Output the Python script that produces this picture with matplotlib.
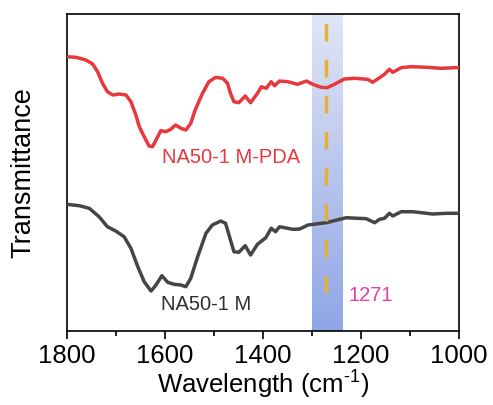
import numpy as np
import matplotlib.pyplot as plt
from matplotlib.colors import LinearSegmentedColormap
from matplotlib.ticker import MultipleLocator

plt.rcParams['font.family'] = ['Liberation Sans', 'DejaVu Sans']
plt.rcParams['mathtext.fontset'] = 'custom'
plt.rcParams['mathtext.rm'] = 'Liberation Sans'
plt.rcParams['mathtext.default'] = 'regular'

# NA50-1 M-PDA (red)
wn_pda = [1800, 1781, 1761, 1747, 1737, 1727, 1717, 1706, 1693, 1679, 1669, 1659,
          1652, 1642, 1632, 1625, 1618, 1608, 1598, 1588, 1578, 1567, 1557, 1547,
          1538, 1523, 1510, 1496, 1482, 1472, 1466, 1459, 1449, 1436, 1425, 1411,
          1403, 1393, 1383, 1376, 1366, 1349, 1329, 1311, 1298, 1281, 1269, 1254,
          1234, 1213, 1186, 1176, 1162, 1152, 1142, 1135, 1118, 1098, 1064, 1037,
          1010, 1000]
t_pda = [274.3, 273.7, 271, 267, 259.3, 247.7, 239.3, 236, 237, 236, 229.3, 216,
         204.3, 194.3, 185, 184.3, 191, 200.3, 199.3, 201.7, 206, 202.7, 201, 207.7,
         221, 237.7, 249.3, 253.7, 252.7, 247.7, 237.7, 229.3, 228.3, 235, 228.3, 237.7,
         244.3, 242.7, 249.3, 245.3, 250, 249.3, 246.7, 250, 246.7, 243.7, 243.3, 246.7,
         252, 252.7, 251.7, 248.7, 253.3, 256.7, 261.7, 258.7, 263.3, 264.3, 263.7, 262.7,
         263.3, 263.3]

# NA50-1 M (black)
wn_m = [1800, 1774, 1754, 1734, 1717, 1700, 1683, 1669, 1655, 1642, 1628, 1618,
        1606, 1594, 1581, 1567, 1557, 1547, 1533, 1516, 1503, 1486, 1476, 1469,
        1459, 1449, 1436, 1425, 1411, 1394, 1383, 1374, 1366, 1339, 1325, 1308,
        1271, 1230, 1189, 1172, 1162, 1152, 1142, 1135, 1118, 1094, 1054, 1026,
        1000]
t_m = [126.7, 125.3, 122.7, 114.3, 104.3, 100, 94.3, 82.7, 64.3, 49.3, 40, 46,
       55.3, 48.7, 46.7, 46, 44.3, 52.7, 74.3, 97.7, 106, 110, 107.7, 96,
       79.3, 78.7, 85.3, 76, 86.7, 93.3, 102.7, 99.3, 104.3, 101.7, 102, 106,
       108.3, 113.3, 112.3, 108.3, 111.7, 112.7, 117.7, 115, 119.3, 119.3, 117, 117.7,
       117.7]

band = (1300, 1237)
peak = 1271

fig = plt.figure(figsize=(4.93, 4.05), dpi=100)
ax = fig.add_axes([0.1353, 0.1827, 0.7957, 0.7827])

# gradient band
cmap = LinearSegmentedColormap.from_list('band', ['#8fa5e6', '#e1e6f6'])
grad = np.linspace(0, 1, 256).reshape(-1, 1)
ax.imshow(grad, cmap=cmap, origin='lower', aspect='auto',
          extent=[band[0], band[1], 0, 317], zorder=0)

ax.plot(wn_pda, t_pda, color='#e8383d', lw=2.5, solid_joinstyle='round',
        solid_capstyle='round', zorder=3)
ax.plot(wn_m, t_m, color='#454545', lw=2.5, solid_joinstyle='round',
        solid_capstyle='round', zorder=3)

lw_d = 2.5
ax.plot([peak, peak], [38, 309.5], color='#e6b035', lw=lw_d,
        dashes=(17.6 * 0.72 / lw_d, 18.4 * 0.72 / lw_d), zorder=4)

ax.text(1464, 174, 'NA50-1 M-PDA', color='#e8383d', fontsize=14.5,
        ha='center', va='center')
ax.text(1515, 27, 'NA50-1 M', color='#303030', fontsize=14.5,
        ha='center', va='center')
ax.text(1179, 36, '1271', color='#e040a8', fontsize=14.5,
        ha='center', va='center')

ax.set_xlim(1800, 1000)
ax.set_ylim(0, 317)
ax.xaxis.set_major_locator(MultipleLocator(200))
ax.xaxis.set_minor_locator(MultipleLocator(100))
ax.set_yticks([])
ax.tick_params(axis='x', which='major', direction='out', length=6, width=1.2,
               labelsize=18.5, pad=3)
ax.tick_params(axis='x', which='minor', direction='out', length=3.5, width=1.2)
for s in ax.spines.values():
    s.set_linewidth(1.2)

ax.set_xlabel(r'Wavelength (cm$^{\text{-}1}$)', fontsize=18.5, labelpad=1)
ax.set_ylabel('Transmittance', fontsize=19.5, labelpad=22)

fig.savefig('out.png', dpi=100)
